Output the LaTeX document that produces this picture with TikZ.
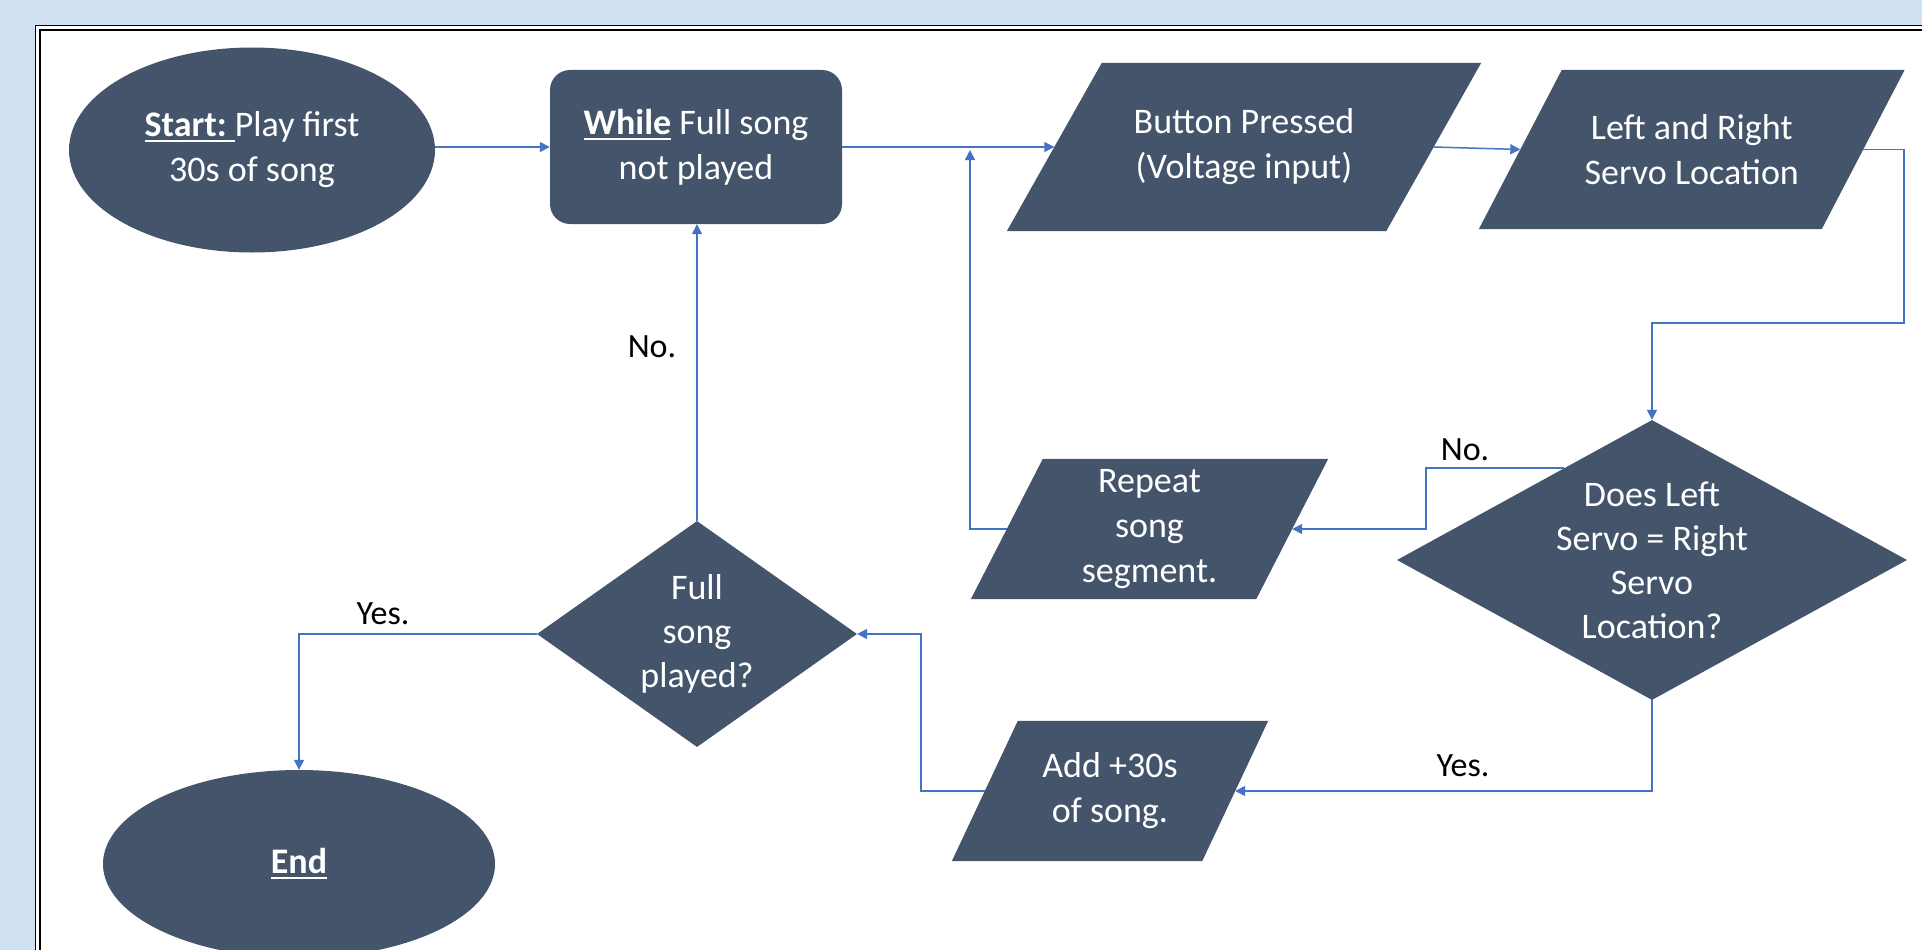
\documentclass[tikz,border=0pt]{standalone}
\usepackage{fontspec}
\setmainfont{Carlito}
\usetikzlibrary{shapes.geometric,arrows.meta,calc}
\definecolor{bgblue}{RGB}{207,224,241}
\definecolor{shapefill}{RGB}{68,84,106}
\definecolor{connblue}{RGB}{68,114,196}
\pgfdeclarelayer{bglayer}
\pgfdeclarelayer{shapelayer}
\pgfsetlayers{bglayer,shapelayer,main}
\newcommand\myul[1]{\setbox0\hbox{#1}\rlap{\rule[-5.5pt]{\wd0}{2.2pt}}\box0\relax}
\newcommand\parafill[2]{%
  \fill[shapefill] ($(#1.north west)+(#2/2,0)$) -- ($(#1.north east)+(#2/2,0)$)
    -- ($(#1.south east)+(-#2/2,0)$) -- ($(#1.south west)+(-#2/2,0)$) -- cycle;}
\begin{document}
\begin{tikzpicture}[x=1pt,y=-1pt,
  shp/.style={fill=shapefill, draw=none, text=white, font=\fontsize{36}{45}\selectfont, align=center, inner sep=0pt},
  ell/.style={shp, ellipse},
  para/.style={shp, fill=none, rectangle},
  dia/.style={shp, diamond},
  dtext/.style={text=white, font=\fontsize{36}{44}\selectfont, align=center, inner sep=0pt},
  lbl/.style={text=black, font=\fontsize{34}{40}\selectfont, inner sep=0pt},
  conn/.style={draw=connblue, line width=1.5pt, -{Triangle[length=10pt,width=10pt]}}]
\useasboundingbox (0,0) rectangle (1922,950);
\clip (0,0) rectangle (1922,950);
\begin{pgfonlayer}{bglayer}
\fill[bgblue] (0,0) rectangle (1922,950);
\fill[white] (37,27) rectangle (1990,1000);
\draw[black, line width=1.8pt, double=white, double distance=2.6pt] (37.7,27.7) rectangle (1990,1000);
\end{pgfonlayer}

% nodes
\node[ell, minimum width=366pt, minimum height=205pt] (start) at (252,150) {\myul{\textbf{Start:}\ }Play first\\30s of song};
\node[shp, rectangle, rounded corners=20pt, minimum width=292pt, minimum height=154pt] (while) at (696,147) {\myul{\textbf{While}} Full song\\not played};
\node[para, minimum width=379pt, minimum height=168pt] (btn) at (1244,147) {Button Pressed\\(Voltage input)};
\node[para, minimum width=342.5pt, minimum height=159pt] (lr) at (1691.75,149.5) {Left and Right\\Servo Location};
\node[dia, minimum width=510pt, minimum height=280pt, label={[dtext]center:Does Left\\Servo = Right\\Servo\\Location?}] (dec) at (1652,560) {};
\node[para, minimum width=285pt, minimum height=140pt] (rep) at (1149.5,529) {Repeat\\song\\segment.};
\node[para, minimum width=250pt, minimum height=140pt] (add) at (1110,791) {Add +30s\\of song.};
\node[dia, minimum width=320pt, minimum height=226pt, label={[dtext]center:Full\\song\\played?}] (full) at (697,634) {};
\node[ell, minimum width=392pt, minimum height=188pt] (end) at (299,864) {\myul{\textbf{End}}};

% parallelogram bodies
\begin{pgfonlayer}{shapelayer}
\parafill{btn}{95}
\parafill{lr}{83}
\parafill{rep}{72}
\parafill{add}{66}
\end{pgfonlayer}

% helper coordinates
\coordinate (c1) at (1904,323);
\coordinate (noX) at (1426,468);
\coordinate (decNo) at ($(dec.north)!0.343!(dec.west)$);
\coordinate (upT) at (970,150);
\coordinate (fX) at (921,633);

% connectors
\draw[conn] (start.east |- while.west) -- (while.west);
\draw[conn] (while.east) -- (btn.west);
\draw[conn] (btn.east) -- (lr.west);
\draw[conn] (lr.east) -| (c1) -| (dec.north);
\draw[conn] (decNo) -- (decNo -| noX) |- (rep.east);
\draw[conn] (rep.west) -| (upT);
\draw[conn] (dec.south) |- (add.east);
\draw[conn] (add.west) -| (fX |- full.east) -- (full.east);
\draw[conn] (full.north) -- (full.north |- while.south);
\draw[conn] (full.west) -| (end.north);

% labels
\node[lbl] (lNo1) at (1465,450) {No.};
\node[lbl] (lYes1) at (1463,766) {Yes.};
\node[lbl] (lNo2) at (652,347) {No.};
\node[lbl] (lYes2) at (383,614) {Yes.};
\end{tikzpicture}
\end{document}
